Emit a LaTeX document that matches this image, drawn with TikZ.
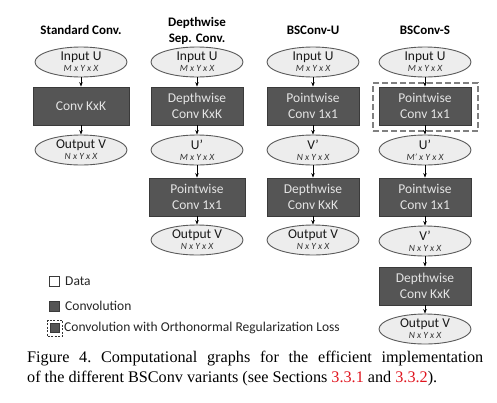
\documentclass[tikz,border=0pt]{standalone}
\usepackage{fontspec}
\setmainfont{Carlito}
\newfontfamily\capfont{Liberation Serif}
\usetikzlibrary{shapes.geometric,arrows.meta}
\definecolor{convfill}{HTML}{555555}
\definecolor{convdraw}{HTML}{3A3A3A}
\definecolor{convtext}{HTML}{E4E4E4}
\definecolor{datafill}{HTML}{EDEDED}
\definecolor{datadraw}{HTML}{5A5A5A}
\definecolor{regdraw}{HTML}{808080}
\definecolor{capred}{HTML}{E0141E}
\newcommand\dlabel[2]{{\fontsize{13.5}{13.5}\selectfont #1}\\[-1pt]{\fontsize{9.5}{9.5}\selectfont\itshape\color[HTML]{333333}#2}}
\tikzset{
  datanode/.style={ellipse, draw=datadraw, fill=datafill, line width=0.9pt,
    minimum width=92pt, minimum height=30pt, inner sep=0pt, align=center, text=black!90},
  convnode/.style={rectangle, draw=convdraw, fill=convfill, line width=0.8pt,
    minimum width=92pt, minimum height=38pt, inner sep=0pt, align=center, text=convtext,
    font=\fontsize{13.5}{15.5}\selectfont},
  hdr/.style={font=\fontsize{13}{16}\selectfont\bfseries, align=center, inner sep=0pt},
  arr/.style={-{Stealth[length=4.5pt,width=3.5pt]}, line width=0.7pt, black},
  regbox/.style={rectangle, draw=regdraw, line width=2.2pt, dash pattern=on 6pt off 3pt,
    minimum width=105pt, minimum height=48pt, inner sep=0pt},
  legsq/.style={rectangle, draw=convdraw, line width=0.8pt, minimum width=10pt, minimum height=10pt, inner sep=0pt},
  legtext/.style={anchor=west, inner sep=0pt, font=\fontsize{13.5}{15}\selectfont, text=black!85}
}
\begin{document}
\begin{tikzpicture}[x=1pt,y=-1pt]
\useasboundingbox[fill=white] (0,0) rectangle (497,402);

% headers
\node[hdr] (h1) at (81,30) {Standard Conv.};
\node[hdr] (h2) at (197,31) {Depthwise\\Sep. Conv.};
\node[hdr] (h3) at (313,30) {BSConv-U};
\node[hdr] (h4) at (425,30) {BSConv-S};

% column 1
\node[datanode] (in1) at (81,62) {\dlabel{Input U}{M x Y x X}};
\node[convnode, minimum width=96pt] (c1) at (81,106) {Conv KxK};
\node[datanode] (out1) at (81,150) {\dlabel{Output V}{N x Y x X}};
\draw[arr] (in1) -- (c1);
\draw[arr] (c1) -- (out1);

% column 2
\node[datanode] (in2) at (197,62) {\dlabel{Input U}{M x Y x X}};
\node[convnode] (dw2) at (197,106) {Depthwise\\Conv KxK};
\node[datanode] (u2) at (197,150) {\dlabel{U’}{M x Y x X}};
\node[convnode, minimum width=96pt] (pw2) at (197,197) {Pointwise\\Conv 1x1};
\node[datanode] (out2) at (197,240) {\dlabel{Output V}{N x Y x X}};
\draw[arr] (in2) -- (dw2);
\draw[arr] (dw2) -- (u2);
\draw[arr] (u2) -- (pw2);
\draw[arr] (pw2) -- (out2);

% column 3
\node[datanode] (in3) at (313,62) {\dlabel{Input U}{M x Y x X}};
\node[convnode] (pw3) at (313,106) {Pointwise\\Conv 1x1};
\node[datanode] (v3) at (313,150) {\dlabel{V’}{N x Y x X}};
\node[convnode] (dw3) at (313,197) {Depthwise\\Conv KxK};
\node[datanode] (out3) at (313,240) {\dlabel{Output V}{N x Y x X}};
\draw[arr] (in3) -- (pw3);
\draw[arr] (pw3) -- (v3);
\draw[arr] (v3) -- (dw3);
\draw[arr] (dw3) -- (out3);

% column 4
\node[datanode] (in4) at (425,62) {\dlabel{Input U}{M x Y x X}};
\node[convnode] (pw4) at (425,106) {Pointwise\\Conv 1x1};
\node[regbox] (reg4) at (425.5,107) {};
\node[datanode] (u4) at (425,150) {\dlabel{U’}{M’ x Y x X}};
\node[convnode] (pw4b) at (425,197) {Pointwise\\Conv 1x1};
\node[datanode] (v4) at (425,241) {\dlabel{V’}{N x Y x X}};
\node[convnode] (dw4) at (425,286) {Depthwise\\Conv KxK};
\node[datanode] (out4) at (425,329) {\dlabel{Output V}{N x Y x X}};
\draw[arr] (in4) -- (pw4);
\draw[arr] (pw4) -- (u4);
\draw[arr] (u4) -- (pw4b);
\draw[arr] (pw4b) -- (v4);
\draw[arr] (v4) -- (dw4);
\draw[arr] (dw4) -- (out4);

% legend
\node[legsq, fill=white] (ld) at (54,281) {};
\node[legtext] (ldt) at (65,281) {Data};
\node[legsq, fill=convfill] (lc) at (54,306) {};
\node[legtext] (lct) at (65,306) {Convolution};
\node[rectangle, draw=black!80, line width=1pt, dash pattern=on 2pt off 1.5pt, minimum width=15pt, minimum height=16pt, inner sep=0pt] (lr) at (55,328) {};
\node[legsq, fill=convfill, minimum width=9pt, minimum height=9pt] (lri) at (55,328) {};
\node[legtext] (lrt) at (64,328) {Convolution with Orthonormal Regularization Loss};

% caption
\node[anchor=north west, text width=456pt, align=justify, inner sep=0pt,
  font=\capfont\fontsize{16.2}{20}\selectfont\frenchspacing] (cap) at (27,351)
  {Figure 4. Computational graphs for the efficient implementation\linebreak
   of the different BSConv variants (see Sections \textcolor{capred}{3.3.1} and \textcolor{capred}{3.3.2}).};
\end{tikzpicture}
\end{document}
